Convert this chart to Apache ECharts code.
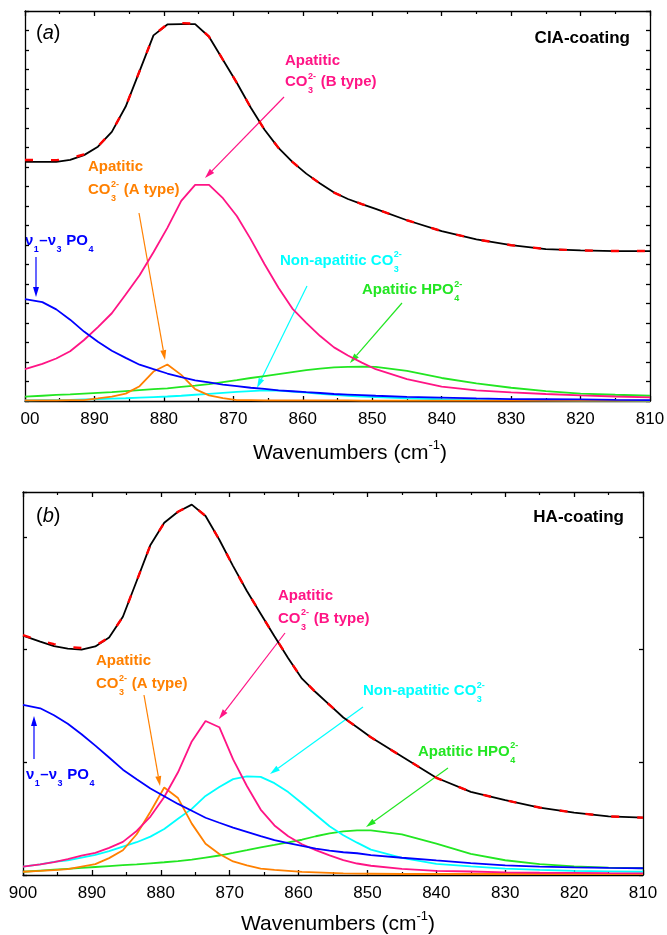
<!DOCTYPE html>
<html>
<head>
<meta charset="utf-8">
<script src="https://cdn.jsdelivr.net/npm/echarts@6/dist/echarts.min.js"></script>
<style>
html, body { margin: 0; padding: 0; background: #fff; }
#chart { width: 667px; height: 935px; }
</style>
</head>
<body>
<div id="chart"></div>
<script>
// wavenumber grid (cm-1), shared by every curve
var wavenumbers = [900, 897.5, 895.5, 893.5, 891.5, 889.5, 887.5, 885.5, 883.5, 881.5,
    879.5, 877.5, 875.5, 873.5, 871.5, 869.5, 867.5, 865.5, 863.5, 861.5,
    859.5, 857.5, 855.5, 853.5, 851.5, 849.5, 845, 840, 835, 830, 825, 820, 815, 810];

// (a) CIA-coating
var aMeasured = [12.26,12.26,12.26,12.37,12.61,13.04,13.80,15.10,16.92,18.75,19.31,19.33,19.33,18.68,17.50,16.32,15.05,13.91,12.98,12.26,11.66,11.15,10.69,10.36,10.10,9.85,9.27,8.71,8.29,7.99,7.79,7.72,7.69,7.69];
var aFit      = [12.36,12.36,12.35,12.44,12.65,13.06,13.80,15.10,16.92,18.75,19.33,19.38,19.35,18.68,17.50,16.32,15.05,13.91,12.98,12.26,11.66,11.15,10.69,10.36,10.10,9.85,9.27,8.71,8.29,7.99,7.79,7.72,7.69,7.69];
var aBtype    = [1.63,1.90,2.18,2.55,3.13,3.79,4.50,5.46,6.45,7.63,8.88,10.26,11.08,11.08,10.40,9.49,8.30,7.01,5.81,4.74,4.01,3.33,2.75,2.33,1.97,1.63,1.12,0.74,0.55,0.44,0.36,0.29,0.23,0.19];
var aAtype    = [0.03,0.03,0.03,0.04,0.05,0.13,0.22,0.38,0.76,1.51,1.87,1.34,0.61,0.29,0.15,0.05,0.04,0.03,0.03,0.03,0.03,0.03,0.03,0.03,0.02,0.02,0.02,0.02,0.02,0.02,0.02,0.02,0.02,0.02];
var aPO4      = [5.23,5.07,4.70,4.17,3.56,3.04,2.58,2.21,1.86,1.63,1.41,1.23,1.06,0.95,0.84,0.76,0.68,0.62,0.55,0.50,0.45,0.41,0.36,0.33,0.30,0.27,0.21,0.17,0.13,0.10,0.09,0.08,0.06,0.05];
var aNonApatitic = [0.03,0.04,0.05,0.06,0.08,0.10,0.12,0.14,0.17,0.20,0.23,0.27,0.32,0.37,0.42,0.47,0.51,0.54,0.53,0.48,0.43,0.37,0.32,0.27,0.23,0.20,0.14,0.09,0.06,0.04,0.03,0.02,0.02,0.01];
var aHPO4     = [0.22,0.27,0.31,0.34,0.38,0.42,0.46,0.51,0.56,0.61,0.65,0.72,0.79,0.87,0.97,1.07,1.18,1.28,1.38,1.48,1.58,1.66,1.72,1.75,1.76,1.75,1.54,1.18,0.90,0.68,0.51,0.38,0.32,0.27];

// (b) HA-coating
var bMeasured = [2.125,2.071,2.031,2.009,2.000,2.029,2.109,2.293,2.610,2.930,3.127,3.225,3.288,3.187,2.976,2.742,2.521,2.320,2.119,1.925,1.743,1.622,1.510,1.398,1.311,1.222,1.052,0.863,0.738,0.664,0.599,0.554,0.520,0.509];
var bFit      = [2.130,2.080,2.050,2.025,2.015,2.035,2.109,2.293,2.610,2.930,3.127,3.225,3.288,3.187,2.976,2.742,2.521,2.320,2.119,1.925,1.743,1.622,1.510,1.398,1.311,1.222,1.052,0.863,0.738,0.664,0.599,0.554,0.520,0.509];
var bBtype    = [0.074,0.094,0.115,0.142,0.171,0.197,0.241,0.294,0.391,0.519,0.692,0.912,1.186,1.367,1.312,1.026,0.790,0.581,0.440,0.344,0.273,0.221,0.174,0.132,0.102,0.082,0.054,0.037,0.031,0.024,0.020,0.018,0.016,0.015];
var bAtype    = [0.029,0.037,0.044,0.052,0.074,0.096,0.150,0.220,0.362,0.561,0.777,0.683,0.456,0.278,0.187,0.120,0.085,0.057,0.046,0.037,0.028,0.024,0.019,0.014,0.012,0.011,0.009,0.009,0.009,0.009,0.009,0.009,0.009,0.009];
var bPO4      = [1.510,1.480,1.418,1.343,1.250,1.148,1.043,0.935,0.851,0.768,0.699,0.631,0.570,0.508,0.464,0.421,0.383,0.345,0.309,0.282,0.258,0.235,0.217,0.202,0.193,0.177,0.153,0.129,0.106,0.086,0.075,0.067,0.063,0.060];
var bNonApatitic = [0.074,0.095,0.116,0.129,0.154,0.179,0.212,0.252,0.291,0.341,0.408,0.499,0.587,0.702,0.782,0.851,0.875,0.871,0.815,0.736,0.637,0.535,0.433,0.353,0.287,0.225,0.152,0.099,0.076,0.057,0.046,0.037,0.033,0.029];
var bHPO4     = [0.029,0.039,0.047,0.055,0.063,0.071,0.079,0.087,0.095,0.104,0.113,0.123,0.137,0.155,0.173,0.196,0.220,0.245,0.267,0.290,0.313,0.344,0.369,0.387,0.397,0.397,0.360,0.278,0.187,0.131,0.096,0.077,0.066,0.060];

var FONT = '"Liberation Sans", Arial, Helvetica, sans-serif';
var C_PINK = '#ff1485', C_ORANGE = '#ff8000', C_BLUE = '#0000ff',
    C_CYAN = '#00ffff', C_GREEN = '#22e622';

var chart = echarts.init(document.getElementById('chart'), null, {renderer: 'canvas'});

function pairs(ys) {
    return wavenumbers.map(function (w, i) { return [w, ys[i]]; });
}

function curve(name, ys, idx, color, width, dashed) {
    return {
        name: name, type: 'line', xAxisIndex: idx * 2, yAxisIndex: idx * 2,
        data: pairs(ys), showSymbol: false, smooth: false, silent: true,
        lineStyle: {color: color, width: width, type: dashed ? [8, 18] : 'solid'},
        z: dashed ? 5 : 3
    };
}

// --- text with stacked sub/superscripts ---
var mctx = document.createElement('canvas').getContext('2d');
function tw(str, size) {
    mctx.font = 'bold ' + size + 'px ' + FONT;
    return mctx.measureText(str).width;
}
function chem(x, y, parts, color) {
    var els = [], cx = x;
    parts.forEach(function (p) {
        if (typeof p === 'string') {
            els.push({type: 'text', x: cx, y: y, silent: true, style: {
                text: p, fill: color, fontSize: 15, fontWeight: 'bold', fontFamily: FONT,
                align: 'left', verticalAlign: 'middle'}});
            cx += tw(p, 15);
        } else {
            var w = 0;
            if (p.sub) {
                els.push({type: 'text', x: cx + 0.5, y: y + 9, silent: true, style: {
                    text: p.sub, fill: color, fontSize: 9, fontWeight: 'bold', fontFamily: FONT,
                    align: 'left', verticalAlign: 'middle'}});
                w = Math.max(w, tw(p.sub, 9));
            }
            if (p.sup) {
                els.push({type: 'text', x: cx + 0.5, y: y - 5.5, silent: true, style: {
                    text: p.sup, fill: color, fontSize: 9, fontWeight: 'bold', fontFamily: FONT,
                    align: 'left', verticalAlign: 'middle'}});
                w = Math.max(w, tw(p.sup, 9));
            }
            cx += w + 1;
        }
    });
    return els;
}

function arrow(x1, y1, x2, y2, color) {
    var a = Math.atan2(y2 - y1, x2 - x1), L = 10, H = 3;
    var bx = x2 - L * Math.cos(a), by = y2 - L * Math.sin(a);
    var px = -Math.sin(a) * H, py = Math.cos(a) * H;
    return [
        {type: 'line', silent: true, shape: {x1: x1, y1: y1, x2: bx, y2: by},
         style: {stroke: color, lineWidth: 1.2}},
        {type: 'polygon', silent: true, shape: {points: [[x2, y2], [bx + px, by + py], [bx - px, by - py]]},
         style: {fill: color}}
    ];
}

var graphics = [];
function add(list) { graphics = graphics.concat(list); }

// panel labels
function panelTag(x, y, letter) {
    return {type: 'text', x: x, y: y, silent: true, style: {
        text: '{p|(}{i|' + letter + '}{p|)}', align: 'left', verticalAlign: 'middle',
        rich: {p: {fontSize: 20, fontFamily: FONT, fill: '#000'},
               i: {fontSize: 20, fontFamily: FONT, fontStyle: 'italic', fill: '#000'}}}};
}
function sampleTag(x, y, txt) {
    return {type: 'text', x: x, y: y, silent: true, style: {
        text: txt, fill: '#000', fontSize: 17, fontWeight: 'bold', fontFamily: FONT,
        align: 'right', verticalAlign: 'middle'}};
}
add([panelTag(36, 33, 'a'), sampleTag(630, 38, 'CIA-coating')]);
add([panelTag(36, 516, 'b'), sampleTag(624, 517, 'HA-coating')]);

// (a) annotations
add(chem(285, 60.5, ['Apatitic'], C_PINK));
add(chem(285, 82, ['CO', {sub: '3', sup: '2-'}, ' (B type)'], C_PINK));
add(arrow(284, 97, 205, 178, C_PINK));
add(chem(88, 166.5, ['Apatitic'], C_ORANGE));
add(chem(88, 190, ['CO', {sub: '3', sup: '2-'}, ' (A type)'], C_ORANGE));
add(arrow(139, 213, 165, 360, C_ORANGE));
add(chem(25, 240.5, ['\u03bd', {sub: '1'}, '\u2013\u03bd', {sub: '3'}, ' PO', {sub: '4'}], C_BLUE));
add(arrow(36, 257, 36, 297, C_BLUE));
add(chem(280, 260.5, ['Non-apatitic CO', {sub: '3', sup: '2-'}], C_CYAN));
add(arrow(307, 286, 257, 388, C_CYAN));
add(chem(362, 290, ['Apatitic HPO', {sub: '4', sup: '2-'}], C_GREEN));
add(arrow(402, 303, 350, 363, C_GREEN));

// (b) annotations
add(chem(278, 595.5, ['Apatitic'], C_PINK));
add(chem(278, 618.5, ['CO', {sub: '3', sup: '2-'}, ' (B type)'], C_PINK));
add(arrow(285, 633, 219, 719, C_PINK));
add(chem(96, 661, ['Apatitic'], C_ORANGE));
add(chem(96, 684, ['CO', {sub: '3', sup: '2-'}, ' (A type)'], C_ORANGE));
add(arrow(144, 695, 160, 786, C_ORANGE));
add(chem(26, 774.5, ['\u03bd', {sub: '1'}, '\u2013\u03bd', {sub: '3'}, ' PO', {sub: '4'}], C_BLUE));
add(arrow(34, 759, 34, 716, C_BLUE));
add(chem(363, 691, ['Non-apatitic CO', {sub: '3', sup: '2-'}], C_CYAN));
add(arrow(363, 707, 270, 774, C_CYAN));
add(chem(418, 751.5, ['Apatitic HPO', {sub: '4', sup: '2-'}], C_GREEN));
add(arrow(448, 768, 366, 827, C_GREEN));

// --- axes ---
var axisLineStyle = {color: '#000', width: 1.3};
function xAxisPair(gridIndex, firstLabel, nameGap, nameShift) {
    var bottom = {
        type: 'value', gridIndex: gridIndex, position: 'bottom', min: 810, max: 900, interval: 10,
        inverse: true,
        axisLine: {show: true, onZero: false, lineStyle: axisLineStyle},
        axisTick: {show: true, inside: true, length: 5, lineStyle: axisLineStyle},
        minorTick: {show: true, splitNumber: 2, length: 3, lineStyle: {color: '#000', width: 1.2}},
        splitLine: {show: false}, minorSplitLine: {show: false},
        axisLabel: {
            show: true, margin: 10, color: '#000', fontSize: 17, fontFamily: FONT,
            formatter: function (v) { return v === 900 ? firstLabel : String(v); },
            rich: {clip: {fontSize: 17, fontFamily: FONT, color: '#000', padding: [0, 0, 0, 10]}}
        },
        name: '{t|Wavenumbers (cm}{s|-1}{t|)}', nameLocation: 'middle', nameGap: nameGap,
        nameTextStyle: {
            padding: [0, 0, 0, nameShift],
            rich: {
                t: {fontSize: 21, fontFamily: FONT, color: '#000', lineHeight: 28},
                s: {fontSize: 13, fontFamily: FONT, color: '#000', lineHeight: 16, verticalAlign: 'top'}
            }
        }
    };
    var top = {
        type: 'value', gridIndex: gridIndex, position: 'top', min: 810, max: 900, interval: 10,
        inverse: true,
        axisLine: {show: true, onZero: false, lineStyle: axisLineStyle},
        axisTick: {show: true, inside: true, length: 5, lineStyle: axisLineStyle},
        minorTick: {show: true, splitNumber: 2, length: 3, lineStyle: {color: '#000', width: 1.2}},
        splitLine: {show: false}, axisLabel: {show: false}
    };
    return [bottom, top];
}
function yAxisPair(gridIndex, max) {
    function one(pos) {
        return {
            type: 'value', gridIndex: gridIndex, position: pos, min: 0, max: max, interval: 1,
            axisLine: {show: true, onZero: false, lineStyle: axisLineStyle},
            axisTick: {show: true, inside: true, length: 4, lineStyle: axisLineStyle},
            splitLine: {show: false}, axisLabel: {show: false}
        };
    }
    return [one('left'), one('right')];
}

var xa = xAxisPair(0, '{clip|00}', 38, 25);
var xb = xAxisPair(1, '900', 35, 10);
var ya = yAxisPair(0, 20);
var yb = yAxisPair(1, 3.4);

var option = {
    animation: false,
    backgroundColor: '#fff',
    grid: [
        {left: 25, top: 11, width: 625, height: 390, containLabel: false, outerBoundsMode: 'none'},
        {left: 23, top: 492, width: 620, height: 383, containLabel: false, outerBoundsMode: 'none'}
    ],
    xAxis: [xa[0], xa[1], xb[0], xb[1]],
    yAxis: [ya[0], ya[1], yb[0], yb[1]],
    series: [
        curve('Apatitic HPO4 (a)', aHPO4, 0, C_GREEN, 1.8),
        curve('Non-apatitic CO3 (a)', aNonApatitic, 0, C_CYAN, 1.8),
        curve('Apatitic CO3 A type (a)', aAtype, 0, C_ORANGE, 1.8),
        curve('Apatitic CO3 B type (a)', aBtype, 0, C_PINK, 1.8),
        curve('v1-v3 PO4 (a)', aPO4, 0, C_BLUE, 1.8),
        curve('Measured (a)', aMeasured, 0, '#000', 1.8),
        curve('Fit (a)', aFit, 0, '#ff0000', 2.4, true),
        curve('Apatitic HPO4 (b)', bHPO4, 1, C_GREEN, 1.8),
        curve('Non-apatitic CO3 (b)', bNonApatitic, 1, C_CYAN, 1.8),
        curve('Apatitic CO3 A type (b)', bAtype, 1, C_ORANGE, 1.8),
        curve('Apatitic CO3 B type (b)', bBtype, 1, C_PINK, 1.8),
        curve('v1-v3 PO4 (b)', bPO4, 1, C_BLUE, 1.8),
        curve('Measured (b)', bMeasured, 1, '#000', 1.8),
        curve('Fit (b)', bFit, 1, '#ff0000', 2.4, true)
    ],
    graphic: graphics
};

chart.setOption(option);
</script>
</body>
</html>
